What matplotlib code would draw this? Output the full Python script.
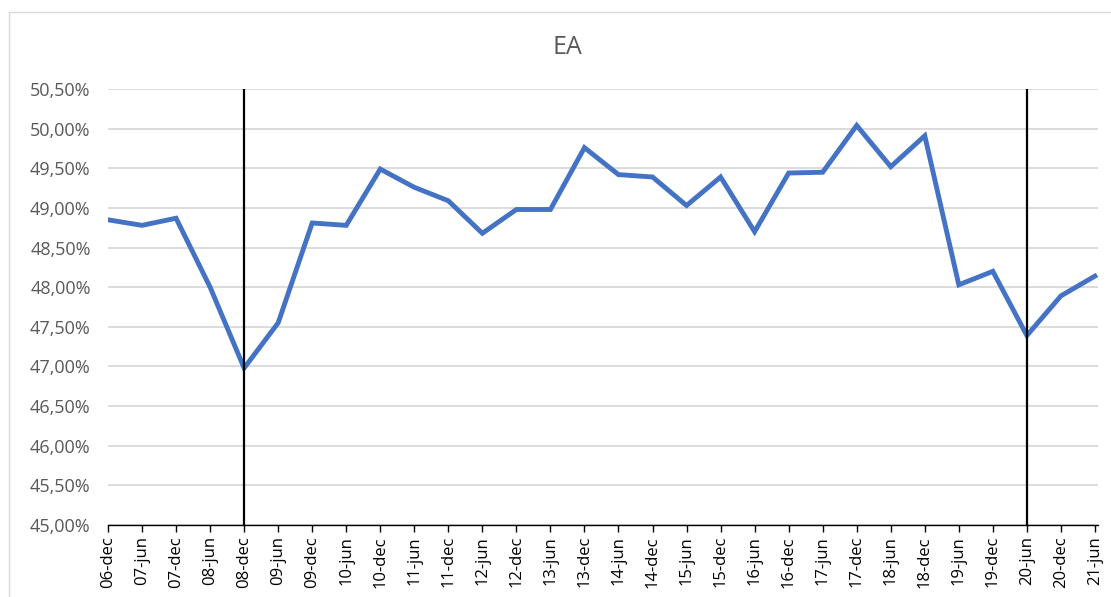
import matplotlib
matplotlib.use("Agg")
import matplotlib.pyplot as plt
from matplotlib.patches import Rectangle
from matplotlib.ticker import FuncFormatter, MultipleLocator

categories = ["06-dec", "07-jun", "07-dec", "08-jun", "08-dec", "09-jun", "09-dec", "10-jun",
              "10-dec", "11-jun", "11-dec", "12-jun", "12-dec", "13-jun", "13-dec", "14-jun",
              "14-dec", "15-jun", "15-dec", "16-jun", "16-dec", "17-jun", "17-dec", "18-jun",
              "18-dec", "19-jun", "19-dec", "20-jun", "20-dec", "21-jun"]
values = [48.85, 48.78, 48.87, 48.00, 46.98, 47.55, 48.81, 48.78,
          49.49, 49.26, 49.09, 48.68, 48.98, 48.98, 49.76, 49.42,
          49.39, 49.03, 49.39, 48.70, 49.44, 49.45, 50.04, 49.52,
          49.91, 48.03, 48.20, 47.39, 47.89, 48.14]
marker_lines = ["08-dec", "20-jun"]
title = "EA"

plt.rcParams['font.family'] = ['Open Sans', 'DejaVu Sans']
fig = plt.figure(figsize=(11.11, 5.97), dpi=100)
ax = fig.add_axes([108/1111, 1-525/597, (1098-108)/1111, (525-89)/597])

x = list(range(len(categories)))
ax.plot(x, values, color="#4472C4", lw=3.5, solid_joinstyle="miter", zorder=3)
for m in marker_lines:
    ax.axvline(categories.index(m), color="black", lw=1.6, zorder=4)

ax.set_ylim(45, 50.5)
ax.set_xlim(0, 29.09)
ax.yaxis.set_major_locator(MultipleLocator(0.5))
ax.yaxis.set_major_formatter(FuncFormatter(lambda v, p: f"{v:.2f}%".replace(".", ",")))
ax.grid(axis="y", color="#D9D9D9", lw=1.3)
ax.set_axisbelow(True)
ax.set_xticks(x)
ax.set_xticklabels(categories, rotation=90, fontsize=12, color="black")
ax.tick_params(axis="x", length=5, width=1, color="black", pad=3)
ax.tick_params(axis="y", length=0, labelsize=13, labelcolor="#595959", pad=12.5)
for s in ["top", "right", "left"]:
    ax.spines[s].set_visible(False)
ax.spines["bottom"].set_color("black")
ax.spines["bottom"].set_linewidth(1)

fig.text(567/1111, 1-47/597, title, ha="center", va="center", fontsize=18, color="#595959")
fig.patches.append(Rectangle((9/1111, -0.01), 1.02, 1-12/597 + 0.01, transform=fig.transFigure,
                             fill=False, edgecolor="#D9D9D9", lw=1))
fig.savefig("out.png", dpi=100)
